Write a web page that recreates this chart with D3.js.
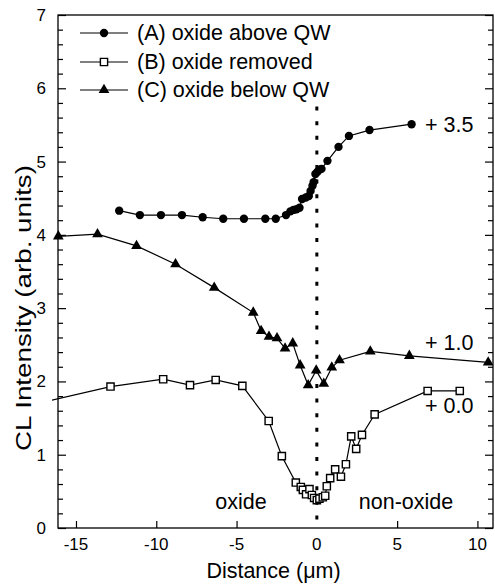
<!DOCTYPE html>
<html><head><meta charset="utf-8">
<script src="https://cdn.jsdelivr.net/npm/d3@7"></script>
<style>
html,body{margin:0;padding:0;background:#fff;}
text{font-family:"Liberation Sans",Arial,Helvetica,sans-serif;fill:#000;}
</style></head>
<body>
<svg id="chart" width="495" height="588"></svg>
<script>
// ---- data (raw values; offsets are added when plotted) ----
const seriesNames = ["(A) oxide above QW", "(B) oxide removed", "(C) oxide below QW"];
const offsets = [3.5, 0.0, 1.0];
const offsetLabels = ["+ 3.5", "+ 0.0", "+ 1.0"];

const xA = [-12.31,-11.02,-9.71,-8.40,-7.11,-5.83,-4.54,-3.21,-2.56,-1.92,-1.65,-1.46,-1.27,-1.08,-0.92,-0.69,-0.50,-0.39,-0.27,-0.20,-0.09,0.04,0.16,0.29,0.66,1.35,2.00,3.28,5.90];
const yA = [0.83,0.77,0.77,0.77,0.74,0.72,0.72,0.72,0.72,0.77,0.82,0.84,0.85,0.87,0.99,1.01,1.03,1.10,1.17,1.22,1.33,1.36,1.39,1.40,1.51,1.70,1.85,1.93,2.01];

const xB = [-17.0,-12.85,-9.57,-7.90,-6.30,-4.64,-3.00,-2.18,-1.31,-1.00,-0.87,-0.67,-0.46,-0.31,-0.17,0.00,0.16,0.37,0.52,0.62,0.83,1.14,1.50,1.81,2.14,2.45,2.81,3.60,6.90,8.90];
const yB = [1.72,1.93,2.03,1.95,2.02,1.94,1.46,0.98,0.62,0.56,0.52,0.46,0.53,0.45,0.41,0.38,0.40,0.42,0.44,0.57,0.68,0.80,0.70,0.87,1.25,1.08,1.27,1.55,1.87,1.87];

const xC = [-16.1,-13.66,-11.23,-8.80,-6.39,-3.96,-3.47,-2.98,-2.48,-1.98,-1.50,-1.04,-0.54,-0.04,0.43,0.93,1.41,3.33,5.76,10.67];
const yC = [2.98,3.01,2.85,2.60,2.28,1.94,1.69,1.61,1.59,1.45,1.52,1.22,0.95,1.15,0.97,1.19,1.29,1.41,1.35,1.26];

const xTicks = [-15,-10,-5,0,5,10];
const yTicks = [0,1,2,3,4,5,6,7];
const regionLabels = ["oxide", "non-oxide"];
const xTitle = "Distance (\u03bcm)";
const yTitle = "CL Intensity (arb. units)";
const boundaryTop = 5.75;

// ---- layout ----
const L = 58, R = 493, T = 15, B = 528;
const svg = d3.select("#chart");
const x = d3.scaleLinear().domain([-16.12, 10.97]).range([L, R]);
const y = d3.scaleLinear().domain([0, 7]).range([B, T]);

svg.append("defs").append("clipPath").attr("id","clip")
  .append("rect").attr("x",L-6).attr("y",T).attr("width",R-L+6).attr("height",B-T);

// frame
svg.append("rect").attr("x",L).attr("y",T).attr("width",R-L).attr("height",B-T)
  .attr("fill","none").attr("stroke","#000").attr("stroke-width",1.3);

// axes
const yMinor = d3.range(0, 7.001, 0.2).filter(v => Math.abs(v - Math.round(v)) > 1e-6);
const axL = svg.append("g").attr("transform",`translate(${L},0)`)
  .call(d3.axisRight(y).tickValues(yTicks).tickSize(8).tickFormat(""));
const axLm = svg.append("g").attr("transform",`translate(${L},0)`)
  .call(d3.axisRight(y).tickValues(yMinor).tickSize(5).tickFormat(""));
const axR = svg.append("g").attr("transform",`translate(${R},0)`)
  .call(d3.axisLeft(y).tickValues(yTicks).tickSize(8).tickFormat(""));
const axRm = svg.append("g").attr("transform",`translate(${R},0)`)
  .call(d3.axisLeft(y).tickValues(yMinor).tickSize(5).tickFormat(""));
const axB = svg.append("g").attr("transform",`translate(0,${B})`)
  .call(d3.axisTop(x).tickValues(xTicks.filter(v=>v!==0)).tickSize(7).tickFormat(""));
[axL,axLm,axR,axRm,axB].forEach(g=>{
  g.select(".domain").remove();
  g.selectAll("line").attr("stroke","#000").attr("stroke-width",1.2);
});

// tick labels
svg.append("g").selectAll("text").data(xTicks).join("text")
  .attr("x",d=>x(d)).attr("y",B+22).attr("text-anchor","middle")
  .attr("font-size",17).text(d=>d);
svg.append("g").selectAll("text").data(yTicks).join("text")
  .attr("x",L-12).attr("y",d=>y(d)+6).attr("text-anchor","end")
  .attr("font-size",17).text(d=>d);

// titles
svg.append("text").attr("x",(L+R)/2 - 2).attr("y",578).attr("text-anchor","middle")
  .attr("font-size",21.5).text(xTitle);
svg.append("text").attr("transform",`translate(31,308) rotate(-90)`)
  .attr("text-anchor","middle").attr("font-size",22)
  .attr("textLength",286).attr("lengthAdjust","spacingAndGlyphs").text(yTitle);

// boundary dotted line
svg.append("line").attr("x1",x(0)).attr("x2",x(0)).attr("y1",y(boundaryTop)).attr("y2",y(0))
  .attr("stroke","#000").attr("stroke-width",3).attr("stroke-dasharray","4,10.6");

// series
const series = [
  {xs:xA, ys:yA, off:offsets[0], shape:"circle"},
  {xs:xB, ys:yB, off:offsets[1], shape:"square"},
  {xs:xC, ys:yC, off:offsets[2], shape:"triangle"}
];
const sym = {
  circle: d3.symbol().type(d3.symbolCircle).size(55),
  square: d3.symbol().type(d3.symbolSquare).size(52),
  triangle: d3.symbol().type(d3.symbolTriangle).size(50)
};
const line = d3.line().x(d=>x(d[0])).y(d=>y(d[1]));
const plot = svg.append("g").attr("clip-path","url(#clip)");

function drawMarker(g, shape, px, py){
  const p = g.append("path").attr("d", sym[shape]()).attr("transform",`translate(${px},${py})`);
  if(shape==="square") p.attr("fill","#fff").attr("stroke","#000").attr("stroke-width",1.4);
  else p.attr("fill","#000");
}
series.forEach(s=>{
  const pts = s.xs.map((v,i)=>[v, s.ys[i] + s.off]);
  plot.append("path").datum(pts).attr("d",line).attr("fill","none")
    .attr("stroke","#000").attr("stroke-width",1.2);
  pts.filter(p=>p[0]>=-16.2).forEach(p=>drawMarker(plot, s.shape, x(p[0]), y(p[1])));
});

// offset labels
svg.append("text").attr("x",425).attr("y",y(5.51)+8).attr("font-size",21.5).text(offsetLabels[0]);
svg.append("text").attr("x",425).attr("y",y(2.52)+7).attr("font-size",21.5).text(offsetLabels[2]);
svg.append("text").attr("x",425).attr("y",y(1.67)+7).attr("font-size",21.5).text(offsetLabels[1]);

// region labels
svg.append("text").attr("x",241).attr("y",509).attr("text-anchor","middle").attr("font-size",21.5).text(regionLabels[0]);
svg.append("text").attr("x",406).attr("y",509).attr("text-anchor","middle").attr("font-size",21.5).text(regionLabels[1]);

// legend
const legY = [33, 62, 90];
const legShapes = ["circle","square","triangle"];
seriesNames.forEach((name,i)=>{
  const g = svg.append("g");
  g.append("line").attr("x1",80).attr("x2",128).attr("y1",legY[i]).attr("y2",legY[i])
    .attr("stroke","#000").attr("stroke-width",1.2);
  drawMarker(g, legShapes[i], 104, legY[i]);
  g.append("text").attr("x",137).attr("y",legY[i]+7).attr("font-size",21.5).text(name);
});
</script>
</body></html>
